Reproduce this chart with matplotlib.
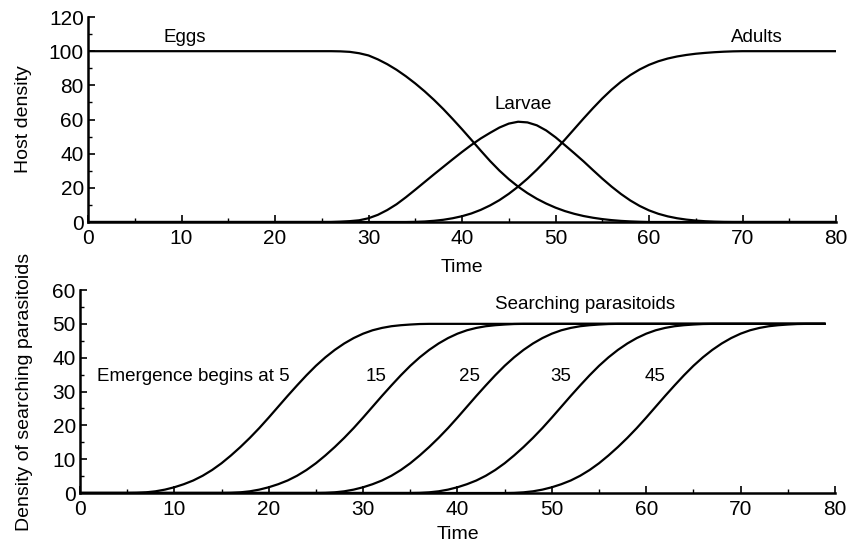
import matplotlib
matplotlib.use('Agg')
import matplotlib.pyplot as plt
from matplotlib.ticker import MultipleLocator

# Host densities (t = 0, 26..70, 80)
host_t = [0] + list(range(26, 71)) + [80]
eggs = [100,
        100, 99.9, 99.6, 98.8, 97.5, 95.2, 92.4, 89.1, 85.3, 81.1, 76.5, 71.5,
        66.1, 60.3, 54.3, 48.1, 41.8, 35.7, 30.1, 25.1, 20.7, 16.9, 13.6, 10.8,
        8.4, 6.4, 4.8, 3.5, 2.5, 1.7, 1.1, 0.65, 0.35, 0.15, 0,
        0, 0, 0, 0, 0, 0, 0, 0, 0, 0,
        0]
larvae = [0,
          0, 0.2, 0.5, 1.0, 2.2, 4.2, 7.0, 10.4, 14.5, 18.9, 23.4, 27.9, 32.3,
          36.7, 41.0, 45.1, 48.9, 52.2, 55.3, 57.6, 58.7, 58.3, 56.6, 53.6,
          49.6, 45.0, 40.3, 35.5, 30.4, 25.4, 20.7, 16.4, 12.6, 9.4, 6.8, 4.8,
          3.3, 2.2, 1.4, 0.85, 0.45, 0.2, 0.05, 0, 0,
          0]
adults = [0,
          0, 0, 0, 0, 0, 0, 0, 0, 0,
          0.1, 0.3, 0.7, 1.3, 2.2, 3.4, 5.0, 7.1, 9.7, 12.8, 16.5, 20.7, 25.4,
          30.6, 36.2, 42.1, 48.2, 54.4, 60.6, 66.6, 72.3, 77.5, 82.1, 86.0,
          89.3, 92.0, 94.1, 95.7, 96.9, 97.8, 98.5, 99.0, 99.4, 99.7, 99.9, 100,
          100]

# Searching parasitoids: same curve for each emergence start
para_onsets = [5, 15, 25, 35, 45]
emergence_labels = ['Emergence begins at 5', '15', '25', '35', '45']
para_density = [0, 0.05, 0.2, 0.5, 1.0, 1.7, 2.6, 3.7, 5.1, 6.8, 8.8, 11.1,
                13.6, 16.3, 19.2, 22.3, 25.5, 28.7, 31.8, 34.8, 37.6, 40.1,
                42.3, 44.2, 45.8, 47.1, 48.1, 48.8, 49.3, 49.6, 49.8, 49.95, 50]
para_end = 79

plt.rcParams['font.family'] = ['Liberation Sans', 'DejaVu Sans']

fig = plt.figure(figsize=(8.49, 5.42), dpi=100, facecolor='w')
ax1 = fig.add_axes([0.1037, 0.5904, 0.881, 0.3782])
ax2 = fig.add_axes([0.0942, 0.0904, 0.8893, 0.3745])

lw = 1.6
for y in (eggs, larvae, adults):
    ax1.plot(host_t, y, color='k', lw=lw, solid_capstyle='butt')

for s in para_onsets:
    t = [0] + list(range(s, s + len(para_density))) + [para_end]
    y = [0] + para_density + [para_density[-1]]
    ax2.plot(t, y, color='k', lw=lw, solid_capstyle='butt')

ax1.set_xlim(0, 80)
ax1.set_ylim(0, 120)
ax1.yaxis.set_major_locator(MultipleLocator(20))
ax1.yaxis.set_minor_locator(MultipleLocator(10))
ax1.set_ylabel('Host density', fontsize=14, labelpad=12)

ax2.set_xlim(0, 80)
ax2.set_ylim(0, 60)
ax2.yaxis.set_major_locator(MultipleLocator(10))
ax2.yaxis.set_minor_locator(MultipleLocator(5))
ax2.set_ylabel('Density of searching parasitoids', fontsize=14, labelpad=14)

for ax in (ax1, ax2):
    ax.xaxis.set_major_locator(MultipleLocator(10))
    ax.xaxis.set_minor_locator(MultipleLocator(5))
    ax.tick_params(which='major', direction='in', length=5, width=1.2,
                   labelsize=15, pad=5)
    ax.tick_params(which='minor', direction='in', length=3, width=1)
    ax.tick_params(axis='y', pad=3)
    for spine in ('top', 'right'):
        ax.spines[spine].set_visible(False)
    for spine in ('left', 'bottom'):
        ax.spines[spine].set_linewidth(1.8)

ax1.set_xlabel('Time', fontsize=14, labelpad=8)
ax2.set_xlabel('Time', fontsize=14, labelpad=5)

ax1.text(10.3, 108.3, 'Eggs', ha='center', va='center', fontsize=13.5)
ax1.text(46.5, 68.5, 'Larvae', ha='center', va='center', fontsize=13.5)
ax1.text(71.5, 108.3, 'Adults', ha='center', va='center', fontsize=13.5)

ax2.text(53.5, 55.6, 'Searching parasitoids', ha='center', va='center', fontsize=13.5)
label_x = [12, 31.4, 41.3, 50.9, 60.9]
for x, lab in zip(label_x, emergence_labels):
    ax2.text(x, 34.3, lab, ha='center', va='center', fontsize=13.5)

fig.savefig('out.png', dpi=100)
